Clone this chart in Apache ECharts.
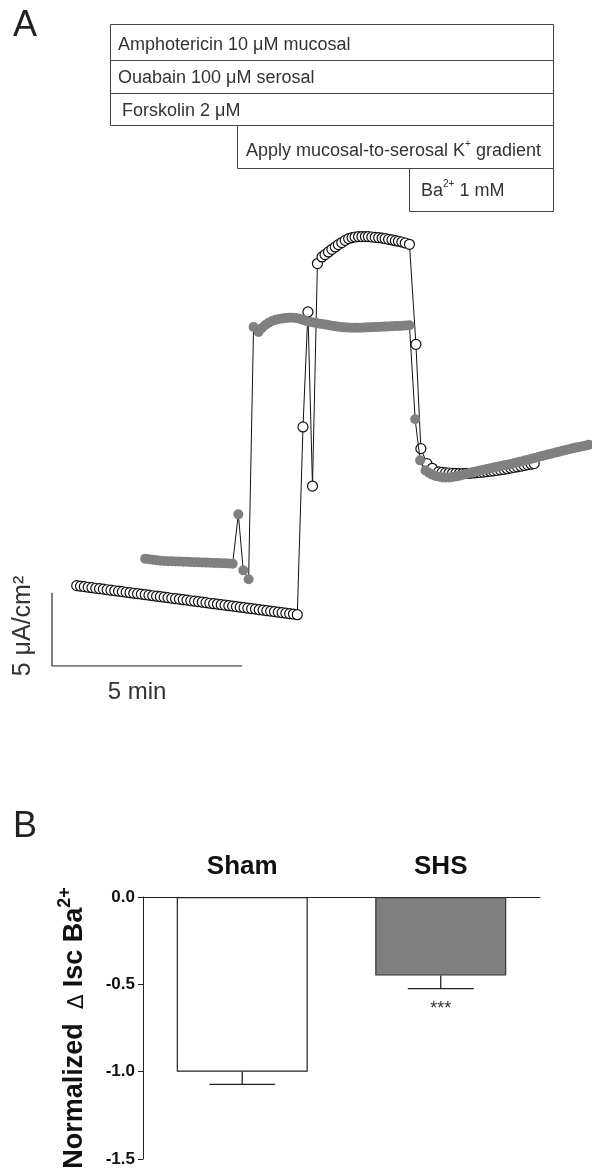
<!DOCTYPE html>
<html>
<head>
<meta charset="utf-8">
<script src="https://cdn.jsdelivr.net/npm/echarts@6/dist/echarts.min.js"></script>
<style>
  html, body { margin: 0; padding: 0; background: #fff; }
  #chart { width: 592px; height: 1173px; }
</style>
</head>
<body>
<div id="chart"></div>
<script>
// Panel A: Isc recordings, [time (min), Isc (uA/cm2)]
// open circles = Sham, filled grey = SHS
var shamTrace = [
  [0.65, 5.48], [0.75, 5.44], [0.85, 5.41], [0.95, 5.37], [1.05, 5.34], [1.15, 5.30],
  [1.25, 5.27], [1.35, 5.24], [1.45, 5.20], [1.55, 5.17], [1.65, 5.13], [1.75, 5.10],
  [1.85, 5.07], [1.95, 5.03], [2.05, 5.00], [2.15, 4.96], [2.25, 4.93], [2.35, 4.90],
  [2.45, 4.86], [2.55, 4.83], [2.65, 4.79], [2.75, 4.76], [2.85, 4.73], [2.95, 4.69],
  [3.05, 4.66], [3.15, 4.62], [3.25, 4.59], [3.35, 4.56], [3.45, 4.52], [3.55, 4.49],
  [3.65, 4.45], [3.75, 4.42], [3.85, 4.39], [3.95, 4.35], [4.05, 4.32], [4.15, 4.28],
  [4.25, 4.25], [4.35, 4.22], [4.45, 4.18], [4.55, 4.15], [4.65, 4.11], [4.75, 4.08],
  [4.85, 4.05], [4.95, 4.01], [5.05, 3.98], [5.15, 3.94], [5.25, 3.91], [5.35, 3.88],
  [5.45, 3.84], [5.55, 3.81], [5.65, 3.77], [5.75, 3.74], [5.85, 3.71], [5.95, 3.67],
  [6.05, 3.64], [6.15, 3.60], [6.25, 3.57], [6.35, 3.54], [6.45, 3.50],
  // K+ gradient
  [6.60, 16.30], [6.73, 24.14], [6.85, 12.27], [6.98, 27.44],
  [7.10, 27.89], [7.18, 28.05], [7.27, 28.23], [7.36, 28.41], [7.45, 28.57], [7.53, 28.73],
  [7.62, 28.87], [7.71, 29.02], [7.80, 29.14], [7.89, 29.21], [7.97, 29.25], [8.06, 29.28],
  [8.15, 29.28], [8.24, 29.28], [8.32, 29.28], [8.41, 29.25], [8.50, 29.23], [8.59, 29.21],
  [8.68, 29.18], [8.76, 29.14], [8.85, 29.09], [8.94, 29.05], [9.03, 29.00], [9.11, 28.96],
  [9.20, 28.91], [9.29, 28.84], [9.40, 28.75],
  // Ba2+
  [9.57, 21.93], [9.70, 14.82], [9.86, 13.80], [10.00, 13.48],
  [10.17, 13.23], [10.26, 13.20], [10.35, 13.17], [10.44, 13.16], [10.53, 13.14], [10.62, 13.13],
  [10.71, 13.12], [10.80, 13.12], [10.89, 13.13], [10.98, 13.14], [11.07, 13.16], [11.16, 13.18],
  [11.25, 13.20], [11.34, 13.22], [11.43, 13.25], [11.52, 13.28], [11.61, 13.31], [11.70, 13.34],
  [11.79, 13.37], [11.88, 13.41], [11.97, 13.45], [12.06, 13.50], [12.15, 13.54], [12.24, 13.58],
  [12.33, 13.62], [12.42, 13.67], [12.51, 13.72], [12.60, 13.76], [12.68, 13.80]
];

var shsTrace = [
  [2.45, 7.32], [2.55, 7.28], [2.65, 7.24], [2.75, 7.21], [2.85, 7.18], [2.95, 7.16],
  [3.05, 7.15], [3.15, 7.14], [3.25, 7.13], [3.35, 7.12], [3.45, 7.11], [3.55, 7.10],
  [3.65, 7.09], [3.75, 7.08], [3.85, 7.07], [3.95, 7.06], [4.05, 7.05], [4.15, 7.04],
  [4.25, 7.03], [4.35, 7.02], [4.45, 7.01], [4.55, 7.00], [4.65, 6.99], [4.75, 6.98],
  [4.90, 10.34], [5.03, 6.52], [5.17, 5.91],
  // K+ gradient
  [5.30, 23.11], [5.43, 22.77], [5.52, 23.05], [5.61, 23.25], [5.70, 23.40], [5.79, 23.52],
  [5.88, 23.60], [5.97, 23.66], [6.06, 23.70], [6.15, 23.73], [6.24, 23.75], [6.33, 23.75],
  [6.42, 23.73], [6.51, 23.68], [6.60, 23.60], [6.69, 23.53], [6.78, 23.47], [6.87, 23.42],
  [6.96, 23.38], [7.05, 23.34], [7.14, 23.30], [7.23, 23.26], [7.32, 23.22], [7.41, 23.18],
  [7.50, 23.14], [7.59, 23.11], [7.68, 23.09], [7.77, 23.08], [7.86, 23.07], [7.95, 23.07],
  [8.04, 23.07], [8.13, 23.07], [8.22, 23.08], [8.31, 23.09], [8.40, 23.10], [8.49, 23.11],
  [8.58, 23.12], [8.67, 23.13], [8.76, 23.14], [8.85, 23.15], [8.94, 23.16], [9.03, 23.18],
  [9.12, 23.19], [9.21, 23.20], [9.30, 23.22], [9.40, 23.23],
  // Ba2+
  [9.55, 16.82], [9.68, 14.02], [9.82, 13.34], [9.91, 13.18], [10.00, 13.05], [10.09, 12.96],
  [10.18, 12.90], [10.27, 12.86], [10.36, 12.85], [10.45, 12.86], [10.54, 12.89], [10.63, 12.93],
  [10.72, 12.98], [10.81, 13.04], [10.90, 13.10], [10.99, 13.16], [11.08, 13.22], [11.17, 13.28],
  [11.26, 13.33], [11.35, 13.38], [11.44, 13.43], [11.53, 13.48], [11.62, 13.53], [11.71, 13.58],
  [11.80, 13.63], [11.89, 13.68], [11.98, 13.73], [12.07, 13.78], [12.16, 13.84], [12.25, 13.89],
  [12.34, 13.95], [12.43, 14.01], [12.52, 14.07], [12.61, 14.13], [12.70, 14.19], [12.79, 14.25],
  [12.88, 14.31], [12.97, 14.37], [13.06, 14.43], [13.15, 14.49], [13.24, 14.55], [13.33, 14.61],
  [13.42, 14.67], [13.51, 14.73], [13.60, 14.78], [13.69, 14.84], [13.78, 14.89], [13.87, 14.94],
  [13.96, 14.99], [14.05, 15.04], [14.12, 15.08]
];

// scale bar: 5 min x 5 uA/cm2
var scaleBar = [[0, 5], [0, 0], [5, 0]];

var protocolSteps = [
  '{n|Amphotericin 10 \u03bcM mucosal}',
  '{n|Ouabain 100 \u03bcM serosal}',
  '{n|Forskolin 2 \u03bcM}',
  '{n|Apply mucosal-to-serosal K}{s|+}{n| gradient}',
  '{n|Ba}{s|2+}{n| 1 mM}'
];

// Panel B
var groups = ['Sham', 'SHS'];
var meanBa = [-1.0, -0.45];
var semBa = [0.073, 0.074];
var sigMarks = ['', '***'];

var FONT = '"Liberation Sans", Arial, sans-serif';
var INK = '#333';

var chart = echarts.init(document.getElementById('chart'));

var boxes = [
  { x: 110, y: 24, w: 443, h: 36, tx: 118, ty: 44 },
  { x: 110, y: 60, w: 443, h: 33, tx: 118, ty: 77 },
  { x: 110, y: 93, w: 443, h: 32, tx: 122, ty: 110 },
  { x: 237, y: 125, w: 316, h: 43, tx: 246, ty: 150 },
  { x: 409, y: 168, w: 144, h: 43, tx: 421, ty: 190 }
];

var graphics = [];
boxes.forEach(function (b, i) {
  graphics.push({
    type: 'rect',
    shape: { x: b.x + 0.5, y: b.y + 0.5, width: b.w, height: b.h },
    style: { fill: '#fff', stroke: '#444', lineWidth: 1 },
    z: 1
  });
  graphics.push({
    type: 'text',
    x: b.tx, y: b.ty,
    z: 2,
    style: {
      text: protocolSteps[i],
      verticalAlign: 'middle',
      rich: {
        n: { fontFamily: FONT, fontSize: 18, fill: INK, lineHeight: 21, verticalAlign: 'bottom' },
        s: { fontFamily: FONT, fontSize: 10, fill: INK, lineHeight: 21, verticalAlign: 'top' }
      }
    }
  });
});

graphics.push(
  { type: 'text', x: 13, y: 26, style: { text: 'A', font: '36px ' + FONT, fill: '#222', verticalAlign: 'middle' } },
  { type: 'text', x: 13, y: 827, style: { text: 'B', font: '36px ' + FONT, fill: '#222', verticalAlign: 'middle' } },
  { type: 'text', x: 137, y: 692, style: { text: '5 min', font: '24px ' + FONT, fill: INK, align: 'center', verticalAlign: 'middle' } },
  { type: 'text', x: 23, y: 626, rotation: Math.PI / 2,
    style: { text: '5 \u03bcA/cm\u00b2', font: '25px ' + FONT, fill: INK, align: 'center', verticalAlign: 'middle' } }
);

var errData = groups.map(function (g, i) { return [i, meanBa[i], semBa[i]]; });

var option = {
  animation: false,
  backgroundColor: '#fff',
  textStyle: { fontFamily: FONT },
  graphic: graphics,
  grid: [
    { left: 52, right: 0, top: 226, bottom: 507, outerBoundsMode: 'none', containLabel: false },
    { left: 143, right: 52, top: 897, bottom: 14, outerBoundsMode: 'none', containLabel: false }
  ],
  xAxis: [
    { gridIndex: 0, type: 'value', min: 0, max: 14.2, show: false },
    {
      gridIndex: 1, type: 'category', data: groups, position: 'top',
      axisLine: { onZero: false, lineStyle: { color: '#222', width: 1 } },
      axisTick: { show: false },
      axisLabel: { color: '#111', fontWeight: 'bold', fontSize: 26, margin: 17, fontFamily: FONT }
    }
  ],
  yAxis: [
    { gridIndex: 0, type: 'value', min: 0, max: 30, show: false },
    {
      gridIndex: 1, type: 'value', min: -1.5, max: 0, interval: 0.5,
      axisLine: { show: true, lineStyle: { color: '#222', width: 1 } },
      axisTick: { show: true, length: 5, lineStyle: { color: '#222' } },
      splitLine: { show: false },
      axisLabel: {
        color: '#111', fontWeight: 'bold', fontSize: 17, margin: 8, fontFamily: FONT,
        formatter: function (v) { return v.toFixed(1); }
      },
      name: '{n|Normalized}{d|  \u0394 }{n|Isc Ba}{s|2+}',
      nameLocation: 'middle',
      nameRotate: 90,
      nameGap: 55,
      nameTextStyle: {
        rich: {
          n: { fontFamily: FONT, fontWeight: 'bold', fontSize: 27, color: '#111', lineHeight: 32, verticalAlign: 'bottom' },
          d: { fontFamily: '"DejaVu Sans", sans-serif', fontWeight: 'normal', fontSize: 22, color: '#111', lineHeight: 32, verticalAlign: 'bottom' },
          s: { fontFamily: FONT, fontWeight: 'bold', fontSize: 18, color: '#111', lineHeight: 32, verticalAlign: 'top' }
        }
      }
    }
  ],
  series: [
    {
      name: 'scale',
      type: 'line',
      xAxisIndex: 0, yAxisIndex: 0,
      data: scaleBar,
      symbol: 'none',
      lineStyle: { color: '#555', width: 1.5 },
      silent: true
    },
    {
      name: 'Sham',
      type: 'line',
      xAxisIndex: 0, yAxisIndex: 0,
      data: shamTrace,
      showAllSymbol: true,
      symbol: 'circle',
      symbolSize: 10,
      clip: false,
      lineStyle: { color: '#111', width: 1 },
      itemStyle: { color: '#fff', borderColor: '#111', borderWidth: 1.2 },
      z: 3
    },
    {
      name: 'SHS',
      type: 'line',
      xAxisIndex: 0, yAxisIndex: 0,
      data: shsTrace,
      showAllSymbol: true,
      symbol: 'circle',
      symbolSize: 10,
      clip: false,
      lineStyle: { color: '#111', width: 1 },
      itemStyle: { color: '#808080', borderWidth: 0 },
      z: 4
    },
    {
      name: 'dIsc',
      type: 'bar',
      xAxisIndex: 1, yAxisIndex: 1,
      barWidth: '66%',
      data: [
        { value: meanBa[0], itemStyle: { color: '#fff', borderColor: '#222', borderWidth: 1.2 } },
        { value: meanBa[1], itemStyle: { color: '#808080', borderColor: '#333', borderWidth: 1.2 } }
      ]
    },
    {
      name: 'sem',
      type: 'custom',
      xAxisIndex: 1, yAxisIndex: 1,
      data: errData,
      z: 5,
      renderItem: function (params, api) {
        var c = api.value(0), m = api.value(1), e = api.value(2);
        var p0 = api.coord([c, m]);
        var p1 = api.coord([c, m - e]);
        var half = api.size([1, 0])[0] * 0.166;
        var st = { stroke: '#222', lineWidth: 1.3 };
        return {
          type: 'group',
          children: [
            { type: 'line', shape: { x1: p0[0], y1: p0[1], x2: p1[0], y2: p1[1] }, style: st },
            { type: 'line', shape: { x1: p1[0] - half, y1: p1[1], x2: p1[0] + half, y2: p1[1] }, style: st },
            { type: 'text', x: p1[0], y: p1[1] + 12,
              style: { text: sigMarks[params.dataIndex], font: '18px ' + FONT, fill: '#333', align: 'center', verticalAlign: 'top' } }
          ]
        };
      }
    }
  ]
};

chart.setOption(option);
</script>
</body>
</html>
